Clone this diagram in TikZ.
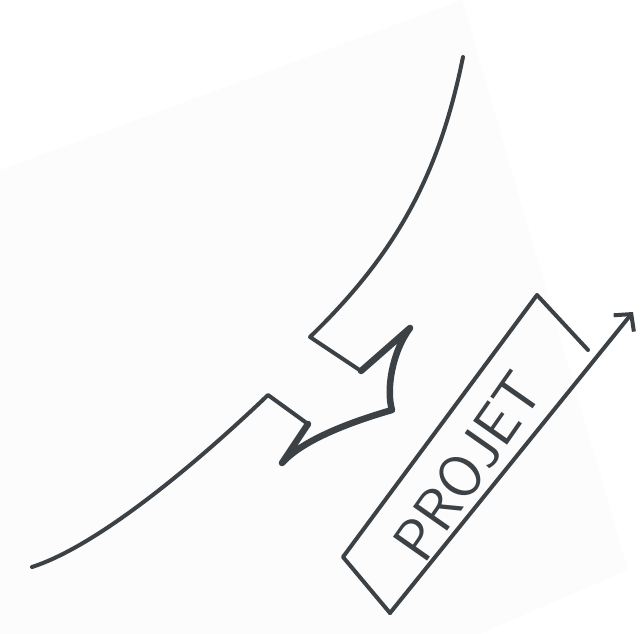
\documentclass[tikz,border=0pt]{standalone}
\usepackage{xcolor}
\usetikzlibrary{arrows.meta}
\definecolor{pen}{HTML}{3C4146}
\definecolor{paper}{HTML}{FCFCFC}
\tikzset{
	sketch/.style={draw=pen, line width=4pt, line cap=round, line join=round},
	heavy/.style={sketch, line width=6.5pt},
}

\begin{document}
\begin{tikzpicture}[x=1pt, y=-1pt]
			\useasboundingbox (0,0) rectangle (641,634);
			\fill[paper] (0,170) -- (462,0) -- (628,570) -- (480,634) -- (0,634) -- cycle;
			\coordinate (topend) at (463,57);
			\coordinate (upflange) at (310,337);
			\coordinate (upbase) at (361,371);
			\coordinate (upbarb) at (410,328);
			\coordinate (point) at (392,410);
			\coordinate (lowbarb) at (282,463);
			\coordinate (lowbase) at (308,424);
			\coordinate (lowflange) at (268,395);
			\coordinate (lowend) at (32,567);
			\draw[sketch] (topend) .. controls (440,170) and (400,250) .. (upflange) -- (upbase);
			\draw[heavy] (upbase) -- (upbarb) .. controls (392,352) and (386,390) .. (point) .. controls (340,425) and (300,443) .. (lowbarb) -- (lowbase);
			\draw[sketch] (lowbase) -- (lowflange) .. controls (200,460) and (100,545) .. (lowend);
			\coordinate (boxtop) at (537,295);
			\coordinate (boxright) at (588,350);
			\coordinate (boxleft) at (343,557);
			\coordinate (boxbottom) at (390,613);
			\coordinate (tip) at (633,312);
			\draw[sketch] (boxright) -- (boxtop) -- (boxleft) -- (boxbottom);
			\draw[sketch, -{Straight Barb[length=12pt, width=26pt, line width=4pt]}] (boxbottom) -- (tip);
			\node[text=pen, rotate=55, font=\fontsize{60}{60}\selectfont\sffamily] (projet) at (468,466) {PROJET};
		\end{tikzpicture}
\end{document}
